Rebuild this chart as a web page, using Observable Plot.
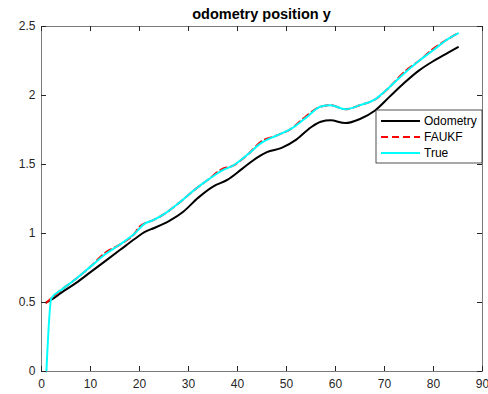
<!DOCTYPE html>
<html>
<head>
<meta charset="utf-8">
<script src="https://cdn.jsdelivr.net/npm/d3@7"></script>
<script src="https://cdn.jsdelivr.net/npm/@observablehq/plot@0.6"></script>
<style>
  body { margin: 0; background: #fff; }
  svg { display: block; }
</style>
</head>
<body>
<div id="chart"></div>
<script>
// Axis ticks
const xTicks = [0, 10, 20, 30, 40, 50, 60, 70, 80, 90];
const yTicks = [0, 0.5, 1, 1.5, 2, 2.5];

// Odometry estimate of position y
const odoX = [1, 2, 4, 7, 10, 13, 16, 19, 21, 23, 26, 29, 32, 35, 38, 41, 44, 46, 49, 52, 55, 57, 59, 62, 65, 68, 71, 74, 77, 80, 83, 85];
const odoY = [0.50, 0.52, 0.57, 0.64, 0.72, 0.80, 0.88, 0.96, 1.01, 1.04, 1.09, 1.16, 1.26, 1.34, 1.39, 1.47, 1.55, 1.59, 1.62, 1.68, 1.77, 1.81, 1.82, 1.80, 1.83, 1.89, 1.99, 2.09, 2.18, 2.25, 2.31, 2.35];

// FAUKF filter estimate
const faukfX = [1, 2, 4, 7, 10, 13, 16, 19, 20, 23, 25, 28, 31, 34, 37, 39, 42, 45, 48, 51, 54, 57, 59, 62, 65, 68, 71, 74, 77, 80, 83, 85];
const faukfY = [0.50, 0.53, 0.59, 0.67, 0.76, 0.86, 0.92, 1.00, 1.05, 1.10, 1.14, 1.22, 1.31, 1.39, 1.47, 1.49, 1.57, 1.67, 1.71, 1.76, 1.85, 1.92, 1.93, 1.90, 1.93, 1.97, 2.06, 2.17, 2.25, 2.34, 2.41, 2.45];

// Ground-truth position y
const trueX = [1, 2, 4, 7, 10, 13, 16, 19, 21, 23, 25, 28, 31, 34, 37, 39, 42, 45, 48, 51, 54, 57, 59, 62, 65, 68, 71, 74, 77, 80, 83, 85];
const trueY = [0.00, 0.53, 0.59, 0.67, 0.76, 0.85, 0.92, 1.00, 1.07, 1.10, 1.14, 1.22, 1.31, 1.39, 1.46, 1.49, 1.57, 1.66, 1.71, 1.76, 1.84, 1.92, 1.93, 1.90, 1.93, 1.97, 2.06, 2.16, 2.25, 2.33, 2.41, 2.45];

const seriesNames = ["Odometry", "FAUKF", "True"];
const seriesColors = ["#000000", "#ff0000", "#00ffff"];
const seriesDash = [null, "7,4", null];

const toRows = (xs, ys) => xs.map((x, i) => ({x, y: ys[i]}));
const series = [toRows(odoX, odoY), toRows(faukfX, faukfY), toRows(trueX, trueY)];

const W = 488, H = 394;
const mL = 41, mR = 6, mT = 26, mB = 23;
const innerH = H - mT - mB;
const innerW = W - mL - mR;
const tickLen = 5;
const axisColor = "#262626";
const font = "'Liberation Sans', Arial, Helvetica, sans-serif";

const chart = Plot.plot({
  width: W,
  height: H,
  marginLeft: mL,
  marginRight: mR,
  marginTop: mT,
  marginBottom: mB,
  style: {
    fontFamily: font,
    fontSize: "12px",
    color: axisColor,
    background: "#fff"
  },
  x: {domain: [0, 90]},
  y: {domain: [0, 2.5]},
  marks: [
    ...series.map((rows, i) => Plot.line(rows, {
      x: "x",
      y: "y",
      stroke: seriesColors[i],
      strokeWidth: 2,
      strokeDasharray: seriesDash[i] ?? undefined,
      curve: "monotone-x"
    })),
    Plot.frame({stroke: "#7a7a7a", strokeWidth: 1}),
    // inward ticks on all four sides
    Plot.tickX(xTicks, {x: d => d, insetTop: innerH - tickLen, stroke: axisColor}),
    Plot.tickX(xTicks, {x: d => d, insetBottom: innerH - tickLen, stroke: axisColor}),
    Plot.tickY(yTicks, {y: d => d, insetRight: innerW - tickLen, stroke: axisColor}),
    Plot.tickY(yTicks, {y: d => d, insetLeft: innerW - tickLen, stroke: axisColor}),
    Plot.axisX({ticks: xTicks, tickSize: 0, tickPadding: 8, label: null, tickFormat: d => String(d)}),
    Plot.axisY({ticks: yTicks, tickSize: 0, tickPadding: 6, label: null, tickFormat: d => String(d)})
  ]
});

document.getElementById("chart").appendChild(chart);

const svg = d3.select(chart);

// Title
svg.append("text")
  .attr("x", mL + innerW / 2)
  .attr("y", 19)
  .attr("text-anchor", "middle")
  .attr("font-family", font)
  .attr("font-size", 14.5)
  .attr("font-weight", "bold")
  .attr("fill", "#000")
  .text("odometry position y");

// Legend box in the upper right, flush with the axes edge
const lg = svg.append("g").attr("transform", `translate(${W - mR - 106},110)`);
lg.append("rect")
  .attr("x", 0).attr("y", 0)
  .attr("width", 106).attr("height", 53)
  .attr("fill", "#fff")
  .attr("stroke", axisColor)
  .attr("stroke-width", 0.8);
seriesNames.forEach((name, i) => {
  const yy = 11 + i * 16;
  lg.append("line")
    .attr("x1", 5).attr("x2", 44)
    .attr("y1", yy).attr("y2", yy)
    .attr("stroke", seriesColors[i])
    .attr("stroke-width", 2)
    .attr("stroke-dasharray", seriesDash[i]);
  lg.append("text")
    .attr("x", 48).attr("y", yy)
    .attr("dy", "0.35em")
    .attr("text-anchor", "start")
    .attr("font-family", font)
    .attr("font-size", 12)
    .attr("fill", "#000")
    .text(name);
});
</script>
</body>
</html>
